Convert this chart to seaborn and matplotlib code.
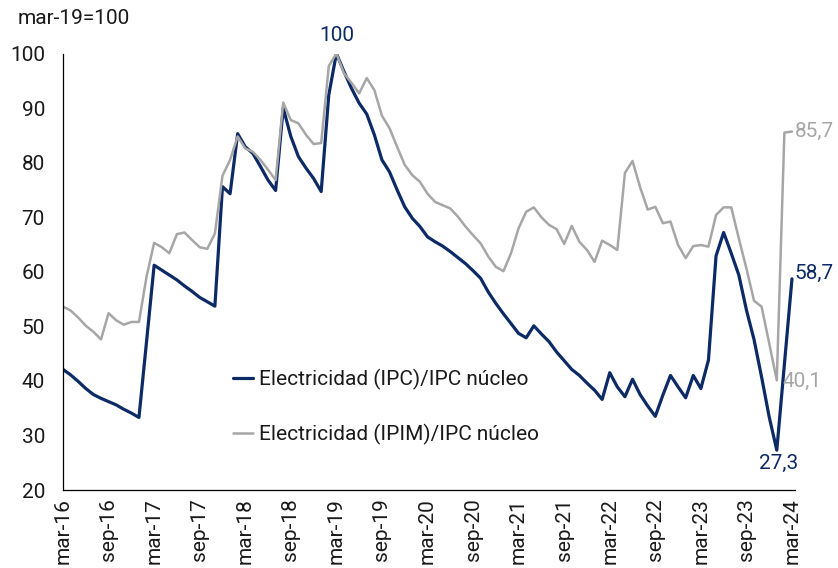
"""Electricidad relativa al IPC núcleo (mar-19=100)."""
import matplotlib
matplotlib.use("Agg")
import matplotlib.pyplot as plt
import numpy as np
import pandas as pd
import seaborn as sns

# monthly data, mar-16 .. mar-24
elec_ipc = [
    42.1, 41.1, 39.9, 38.6, 37.5, 36.8, 36.2, 35.6, 34.8, 34.1, 33.3, 47.2,
    61.2, 60.3, 59.4, 58.5, 57.4, 56.4, 55.3, 54.5, 53.7, 75.6, 74.3, 85.3,
    82.9, 81.7, 79.3, 76.8, 74.9, 90.0, 84.8, 81.1, 79.0, 77.1, 74.7, 92.4,
    100.0, 96.7, 93.6, 90.9, 88.9, 85.1, 80.5, 78.3, 75.0, 71.9, 69.8, 68.3,
    66.4, 65.5, 64.7, 63.7, 62.6, 61.5, 60.2, 58.8, 56.3, 54.2, 52.3, 50.5,
    48.7, 47.9, 50.1, 48.6, 47.2, 45.3, 43.7, 42.1, 41.0, 39.6, 38.3, 36.6,
    41.5, 38.9, 37.1, 40.3, 37.5, 35.4, 33.5, 37.4, 41.0, 38.9, 36.9, 41.0,
    38.6, 43.8, 62.9, 67.2, 63.4, 59.4, 53.0, 47.6, 40.7, 33.4, 27.3, 43.0,
    58.7,
]
elec_ipim = [
    53.6, 52.9, 51.6, 50.1, 49.0, 47.6, 52.4, 51.1, 50.3, 50.8, 50.8, 59.1,
    65.3, 64.5, 63.4, 66.9, 67.2, 65.8, 64.5, 64.2, 67.0, 77.6, 80.5, 84.8,
    82.6, 82.0, 80.5, 78.7, 76.8, 91.0, 87.8, 87.2, 85.1, 83.4, 83.6, 97.7,
    100.0, 96.4, 94.6, 92.7, 95.5, 93.3, 88.6, 86.3, 82.9, 79.6, 77.7, 76.5,
    74.3, 72.8, 72.2, 71.6, 70.1, 68.3, 66.7, 65.2, 62.8, 60.9, 60.1, 63.4,
    68.0, 71.0, 71.8, 70.0, 68.6, 67.8, 65.1, 68.4, 65.5, 64.0, 61.8, 65.7,
    64.9, 64.0, 78.1, 80.3, 75.5, 71.4, 71.9, 68.9, 69.2, 64.9, 62.5, 64.7,
    64.9, 64.6, 70.4, 71.8, 71.8, 66.1, 60.6, 54.7, 53.6, 46.9, 40.1, 85.5,
    85.7,
]
tick_labels = [
    "mar-16", "sep-16", "mar-17", "sep-17", "mar-18", "sep-18", "mar-19",
    "sep-19", "mar-20", "sep-20", "mar-21", "sep-21", "mar-22", "sep-22",
    "mar-23", "sep-23", "mar-24",
]
NAVY = "#0c2a66"
GREY = "#a6a6a6"
FS = 15

df = pd.DataFrame({"t": np.arange(len(elec_ipc)), "ipc": elec_ipc, "ipim": elec_ipim})

sns.set_style("white")
plt.rcParams["font.family"] = ["Roboto", "DejaVu Sans"]

fig = plt.figure(figsize=(8.38, 5.68), dpi=100)
ax = fig.add_axes([0.0752, 0.1373, 0.8735, 0.7685])

sns.lineplot(data=df, x="t", y="ipc", color=NAVY, lw=2.3, ax=ax,
             label="Electricidad (IPC)/IPC núcleo")
sns.lineplot(data=df, x="t", y="ipim", color=GREY, lw=1.8, ax=ax,
             label="Electricidad (IPIM)/IPC núcleo")

ax.set_xlim(0, len(df) - 1 + 0.4)
ax.set_ylim(20, 100)
ax.set_yticks(range(20, 101, 10))
ax.set_xticks(range(0, len(df), 6))
ax.set_xticklabels(tick_labels, rotation=90)
ax.set_xlabel("")
ax.set_ylabel("")
ax.tick_params(axis="both", direction="in", length=5, width=0.8, colors="black",
               labelsize=FS, labelcolor="#1a1a1a")
ax.tick_params(axis="x", pad=6)
ax.tick_params(axis="y", pad=13)
sns.despine(ax=ax)
for s in ["left", "bottom"]:
    ax.spines[s].set_color("black")
    ax.spines[s].set_linewidth(0.9)

leg = ax.legend(loc="center left", bbox_to_anchor=(0.206, 0.19), frameon=False,
                fontsize=FS, handlelength=1.0, handletextpad=0.25, labelspacing=1.6)
for t in leg.get_texts():
    t.set_color("#1a1a1a")

last = len(df) - 1
imin = int(np.argmin(elec_ipc))
ipeak = int(np.argmax(elec_ipc))
ax.annotate("100", (ipeak, elec_ipc[ipeak]), xytext=(0, 6), textcoords="offset points",
            ha="center", va="bottom", color=NAVY, fontsize=FS)
ax.annotate(f"{elec_ipc[last]:.1f}".replace(".", ","), (last, elec_ipc[last]),
            xytext=(2, 4), textcoords="offset points", ha="left", va="center",
            color=NAVY, fontsize=FS, annotation_clip=False)
ax.annotate(f"{elec_ipim[last]:.1f}".replace(".", ","), (last, elec_ipim[last]),
            xytext=(2, 0), textcoords="offset points", ha="left", va="center",
            color=GREY, fontsize=FS, annotation_clip=False)
ax.annotate(f"{elec_ipim[imin]:.1f}".replace(".", ","), (imin, elec_ipim[imin]),
            xytext=(4, -1), textcoords="offset points", ha="left", va="center",
            color=GREY, fontsize=FS)
ax.annotate(f"{elec_ipc[imin]:.1f}".replace(".", ","), (imin, elec_ipc[imin]),
            xytext=(1, -3), textcoords="offset points", ha="center", va="top",
            color=NAVY, fontsize=FS)

fig.text(18 / 838, 1 - 18 / 568, "mar-19=100", ha="left", va="center",
         fontsize=FS, color="#1a1a1a")

fig.savefig("out.png", dpi=100)
